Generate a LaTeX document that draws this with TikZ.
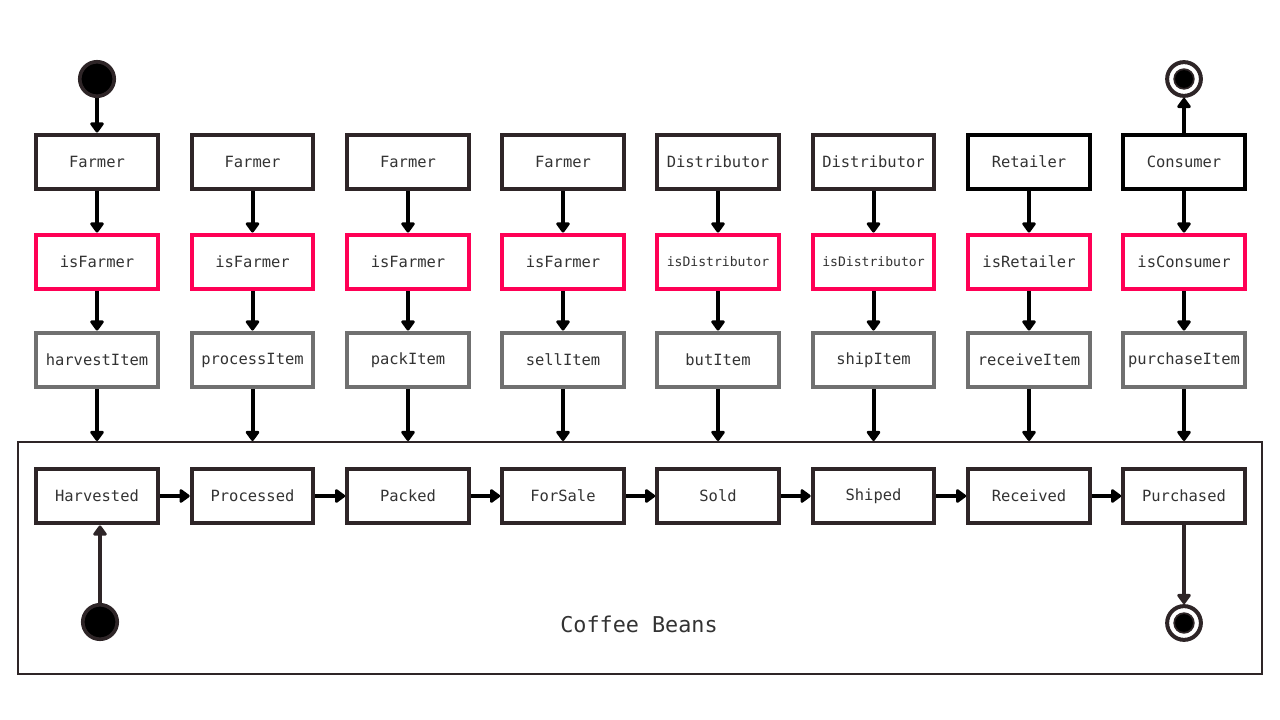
\documentclass[tikz,border=0pt]{standalone}
\usepackage{fontspec}
\setmonofont{DejaVu Sans Mono}
\usetikzlibrary{arrows.meta}

\definecolor{boxdark}{HTML}{2E2527}
\definecolor{guardpink}{HTML}{FF0055}
\definecolor{actiongrey}{HTML}{707070}
\definecolor{textdark}{HTML}{333333}

\tikzset{
    actor/.style={draw=boxdark, line width=2.85pt, fill=white, minimum width=86.5pt, minimum height=39pt,
        inner sep=0pt, text=textdark, font=\ttfamily\fontsize{11}{13}\selectfont},
    boss/.style={actor, draw=black},
    guard/.style={actor, draw=guardpink},
    action/.style={actor, draw=actiongrey},
    flow/.style={line width=2.85pt, -{Triangle[round, length=8pt, width=11pt]}},
    startdot/.style={circle, fill=black, draw=boxdark, line width=2.6pt, minimum size=24.5pt, inner sep=0pt},
    endring/.style={circle, fill=white, draw=boxdark, line width=2.85pt, minimum size=24pt, inner sep=0pt},
    enddot/.style={circle, fill=black, draw=boxdark, line width=1.2pt, minimum size=14pt, inner sep=0pt},
}

\begin{document}
\begin{tikzpicture}[x=0.025cm, y=-0.025cm]
    \useasboundingbox (0,0) rectangle (1280,720);

    % frame of the coffee beans states
    \node (frame) [draw=boxdark, line width=1.4pt, minimum width=885pt, minimum height=165pt, inner sep=0pt] at (640,558) {};
    \node (beans) [text=textdark, font=\ttfamily\fontsize{15.5}{18}\selectfont] at (639,624) {Coffee Beans};

    % roles
    \node (roleA) [actor] at (97,162) {Farmer};
    \node (roleB) [actor] at (252.5,162) {Farmer};
    \node (roleC) [actor] at (408,162) {Farmer};
    \node (roleD) [actor] at (563,162) {Farmer};
    \node (roleE) [actor] at (718,162) {Distributor};
    \node (roleF) [actor] at (873.5,162) {Distributor};
    \node (roleG) [boss] at (1029,162) {Retailer};
    \node (roleH) [boss] at (1184,162) {Consumer};

    % checks
    \node (checkA) [guard] at (97,262) {isFarmer};
    \node (checkB) [guard] at (252.5,262) {isFarmer};
    \node (checkC) [guard] at (408,262) {isFarmer};
    \node (checkD) [guard] at (563,262) {isFarmer};
    \node (checkE) [guard, font=\ttfamily\fontsize{9.3}{11}\selectfont] at (718,262) {isDistributor};
    \node (checkF) [guard, font=\ttfamily\fontsize{9.3}{11}\selectfont] at (873.5,262) {isDistributor};
    \node (checkG) [guard] at (1029,262) {isRetailer};
    \node (checkH) [guard] at (1184,262) {isConsumer};

    % calls
    \node (callA) [action] at (97,360) {harvestItem};
    \node (callB) [action] at (252.5,360) {processItem};
    \node (callC) [action] at (408,360) {packItem};
    \node (callD) [action] at (563,360) {sellItem};
    \node (callE) [action] at (718,360) {butItem};
    \node (callF) [action] at (873.5,360) {shipItem};
    \node (callG) [action] at (1029,360) {receiveItem};
    \node (callH) [action] at (1184,360) {purchaseItem};

    % states
    \node (stateA) [actor] at (97,496) {Harvested};
    \node (stateB) [actor] at (252.5,496) {Processed};
    \node (stateC) [actor] at (408,496) {Packed};
    \node (stateD) [actor] at (563,496) {ForSale};
    \node (stateE) [actor] at (718,496) {Sold};
    \node (stateF) [actor] at (873.5,496) {Shiped};
    \node (stateG) [actor] at (1029,496) {Received};
    \node (stateH) [actor] at (1184,496) {Purchased};

    % start and end
    \node (startTop) [startdot] at (97,79) {};
    \node (startBottom) [startdot] at (100,622) {};
    \node (endTop) [endring] at (1184,79) {};
    \node (endTopDot) [enddot] at (endTop) {};
    \node (endBottom) [endring] at (1184,623) {};
    \node (endBottomDot) [enddot] at (endBottom) {};

    \draw [flow] (startTop) -- (roleA);
    \draw [flow] (roleH) -- (endTop);
    \draw [flow, draw=boxdark] (startBottom) -- (startBottom |- stateA.south);
    \draw [flow, draw=boxdark] (stateH) -- (endBottom);

    \draw [flow] (roleA) -- (checkA);
    \draw [flow] (roleB) -- (checkB);
    \draw [flow] (roleC) -- (checkC);
    \draw [flow] (roleD) -- (checkD);
    \draw [flow] (roleE) -- (checkE);
    \draw [flow] (roleF) -- (checkF);
    \draw [flow] (roleG) -- (checkG);
    \draw [flow] (roleH) -- (checkH);

    \draw [flow] (checkA) -- (callA);
    \draw [flow] (checkB) -- (callB);
    \draw [flow] (checkC) -- (callC);
    \draw [flow] (checkD) -- (callD);
    \draw [flow] (checkE) -- (callE);
    \draw [flow] (checkF) -- (callF);
    \draw [flow] (checkG) -- (callG);
    \draw [flow] (checkH) -- (callH);

    \draw [flow] (callA) -- (callA |- frame.north);
    \draw [flow] (callB) -- (callB |- frame.north);
    \draw [flow] (callC) -- (callC |- frame.north);
    \draw [flow] (callD) -- (callD |- frame.north);
    \draw [flow] (callE) -- (callE |- frame.north);
    \draw [flow] (callF) -- (callF |- frame.north);
    \draw [flow] (callG) -- (callG |- frame.north);
    \draw [flow] (callH) -- (callH |- frame.north);

    \draw [flow] (stateA) -- (stateB);
    \draw [flow] (stateB) -- (stateC);
    \draw [flow] (stateC) -- (stateD);
    \draw [flow] (stateD) -- (stateE);
    \draw [flow] (stateE) -- (stateF);
    \draw [flow] (stateF) -- (stateG);
    \draw [flow] (stateG) -- (stateH);
\end{tikzpicture}
\end{document}
